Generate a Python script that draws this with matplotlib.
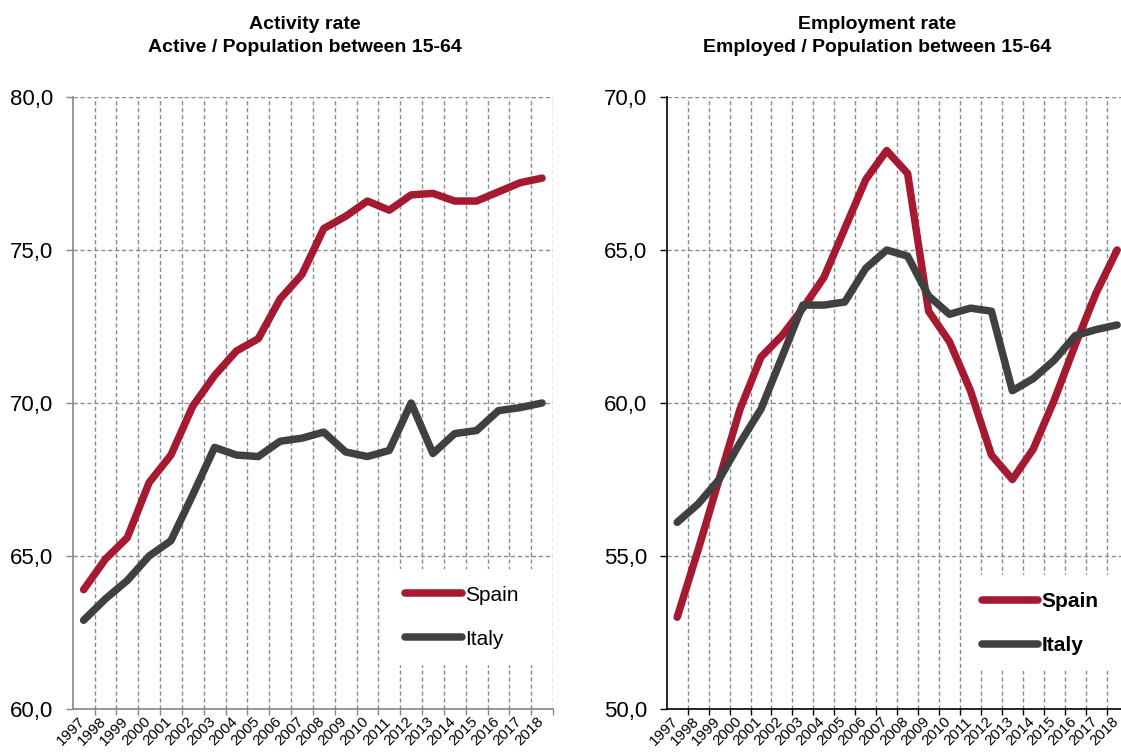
import matplotlib
matplotlib.use("Agg")
import matplotlib.pyplot as plt
from matplotlib.ticker import FixedLocator, FuncFormatter
import matplotlib.transforms as mtransforms

plt.rcParams['font.family'] = ['Liberation Sans', 'DejaVu Sans']

years = [str(y) for y in range(1997, 2019)]

activity_spain = [63.9, 64.9, 65.6, 67.4, 68.3, 69.9, 70.9, 71.7, 72.1, 73.4, 74.2,
                  75.7, 76.1, 76.6, 76.3, 76.8, 76.85, 76.6, 76.6, 76.9, 77.2, 77.35]
activity_italy = [62.9, 63.6, 64.2, 65.0, 65.5, 67.0, 68.55, 68.3, 68.25, 68.75, 68.85,
                  69.05, 68.4, 68.25, 68.45, 70.0, 68.35, 69.0, 69.1, 69.75, 69.85, 70.0]

employ_spain = [53.0, 55.2, 57.5, 59.8, 61.5, 62.2, 63.1, 64.1, 65.7, 67.3, 68.25,
                67.5, 63.0, 62.0, 60.4, 58.3, 57.5, 58.5, 60.1, 61.9, 63.6, 65.0]
employ_italy = [56.1, 56.7, 57.5, 58.7, 59.8, 61.5, 63.2, 63.2, 63.3, 64.4, 65.0,
                64.8, 63.5, 62.9, 63.1, 63.0, 60.4, 60.8, 61.4, 62.2, 62.4, 62.55]

series_names = ['Spain', 'Italy']
titles = ['Activity rate\nActive / Population between 15-64',
          'Employment rate\nEmployed / Population between 15-64']

RED = '#A51931'
DARK = '#404040'
GRID = '#8a8a8a'

W, H = 1121, 753
fig = plt.figure(figsize=(W / 100, H / 100), dpi=100)

def px_axes(x0, x1, y_top, y_bot):
    return fig.add_axes([x0 / W, 1 - y_bot / H, (x1 - x0) / W, (y_bot - y_top) / H])

ax1 = px_axes(72.7, 553.0, 97, 709)
ax2 = px_axes(666.7, 666.7 + 22 * 20.95, 97, 709)

def style(ax, ylo, yhi, spine_color, bold_legend, spain, italy, leg_xy):
    n = len(years)
    x = list(range(n))
    ax.plot(x, spain, color=RED, lw=5.4, solid_capstyle='round', solid_joinstyle='round',
            label=series_names[0], zorder=3)
    ax.plot(x, italy, color=DARK, lw=5.4, solid_capstyle='round', solid_joinstyle='round',
            label=series_names[1], zorder=3)
    ax.set_xlim(-0.5, n - 0.5)
    ax.set_ylim(ylo, yhi)
    ax.set_yticks([ylo + 5 * i for i in range(5)])
    ax.yaxis.set_major_formatter(FuncFormatter(lambda v, p: f"{v:.1f}".replace('.', ',')))
    ax.tick_params(axis='y', labelsize=16, length=5, width=1, color=spine_color, pad=9)
    ax.set_xticks(x)
    ax.set_xticklabels(years, rotation=45, ha='right', va='top', rotation_mode='anchor',
                       fontsize=11)
    ax.tick_params(axis='x', which='major', length=0, pad=4)
    for lab in ax.get_xticklabels():
        lab.set_transform(lab.get_transform() + mtransforms.ScaledTranslation(-6 / 100, 0, fig.dpi_scale_trans))
    ax.xaxis.set_minor_locator(FixedLocator([i + 0.5 for i in range(n)]))
    ax.tick_params(axis='x', which='minor', length=4, width=1, color=spine_color)
    ax.grid(True, which='minor', axis='x', color=GRID, ls=(0, (3, 2)), lw=1)
    ax.grid(True, which='major', axis='y', color=GRID, ls=(0, (3, 2)), lw=1)
    ax.grid(False, which='major', axis='x')
    ax.set_axisbelow(True)
    for s in ['top', 'right']:
        ax.spines[s].set_visible(False)
    for s in ['left', 'bottom']:
        ax.spines[s].set_color(spine_color)
        ax.spines[s].set_linewidth(1.2)
    leg = ax.legend(loc='center', bbox_to_anchor=leg_xy, frameon=True, fancybox=False,
                    framealpha=1, facecolor='white', edgecolor='none',
                    handlelength=2.7, handletextpad=0.15, labelspacing=1.2,
                    borderpad=0.8, prop={'size': 15, 'weight': 'bold' if bold_legend else 'normal'})
    leg.set_zorder(5)

style(ax1, 60, 80, '#868686', False, activity_spain, activity_italy, (0.81, 0.15))
style(ax2, 50, 70, 'black', True, employ_spain, employ_italy, (0.81, 0.14))

fig.text(305 / W, 1 - 36 / H, titles[0], ha='center', va='center', fontsize=14,
         fontweight='bold', linespacing=1.5)
fig.text(877 / W, 1 - 36 / H, titles[1], ha='center', va='center', fontsize=14,
         fontweight='bold', linespacing=1.5)

fig.savefig('out.png', dpi=100)
